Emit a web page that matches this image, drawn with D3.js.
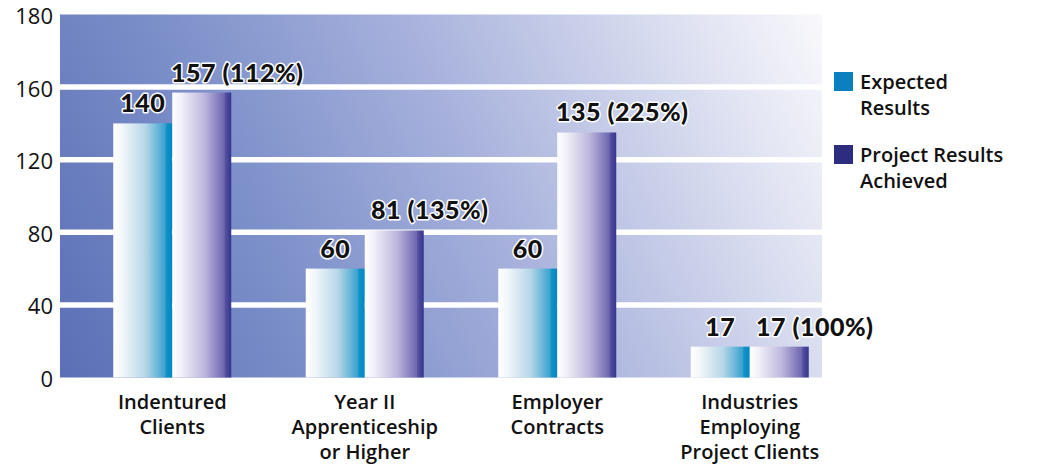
<!DOCTYPE html>
<html>
<head>
<meta charset="utf-8">
<script src="https://cdn.jsdelivr.net/npm/d3@7"></script>
<style>
  body { margin: 0; background: #ffffff; }
  text { font-family: "Open Sans", sans-serif; fill: #111; }
</style>
</head>
<body>
<div id="chart"></div>
<script>
// data
const categories = ["Indentured Clients", "Year II Apprenticeship or Higher", "Employer Contracts", "Industries Employing Project Clients"];
const categoryLines = [["Indentured", "Clients"], ["Year II", "Apprenticeship", "or Higher"], ["Employer", "Contracts"], ["Industries", "Employing", "Project Clients"]];
const expected = [140, 60, 60, 17];
const achieved = [157, 81, 135, 17];
const achievedPct = ["112%", "135%", "225%", "100%"];
const series = ["Expected Results", "Project Results Achieved"];
const legendLines = [["Expected", "Results"], ["Project Results", "Achieved"]];
const yTickValues = [0, 40, 80, 120, 160, 200];
const yTickLabels = ["0", "40", "80", "120", "160", "180"];

let width = 1043, height = 466;
let plot = { left: 60, right: 822, top: 14.5, bottom: 377.5 };

let svg = d3.select("#chart").append("svg")
    .attr("width", width)
    .attr("height", height);

let defs = svg.append("defs");

// background gradient, dark blue bottom-left to near white top-right
let bg = defs.append("linearGradient")
    .attr("id", "bg")
    .attr("gradientUnits", "userSpaceOnUse")
    .attr("x1", plot.left).attr("y1", plot.bottom)
    .attr("x2", plot.right).attr("y2", plot.top);
[[0, "#5a6fb6"], [0.3, "#7e91ca"], [0.55, "#a7b1dc"], [0.8, "#d6daee"], [1, "#f9f9fc"]].forEach(s => {
    bg.append("stop").attr("offset", s[0]).attr("stop-color", s[1]);
});

let barGrads = [
    [[0, "#ffffff"], [0.15, "#f3f7fa"], [0.55, "#b5d6e7"], [0.88, "#3aa2d0"], [0.9, "#0f93c8"], [1, "#0088c0"]],
    [[0, "#ffffff"], [0.15, "#f2f0f8"], [0.55, "#bcb6dc"], [0.88, "#6d67b0"], [0.9, "#55509f"], [1, "#35358c"]]
];
barGrads.forEach((stops, i) => {
    let g = defs.append("linearGradient").attr("id", "bar" + i)
        .attr("x1", 0).attr("y1", 0).attr("x2", 1).attr("y2", 0);
    stops.forEach(s => g.append("stop").attr("offset", s[0]).attr("stop-color", s[1]));
});

// scales
let y = d3.scaleLinear().domain([0, 200]).range([plot.bottom, plot.top]);
let x0 = d3.scaleBand().domain(categories).range([76, 846]);
let x1 = d3.scaleBand().domain(series).range([-59, 59]);
let cx = c => x0(c) + x0.bandwidth() / 2;

// plot background
svg.append("rect")
    .attr("x", plot.left).attr("y", plot.top)
    .attr("width", plot.right - plot.left)
    .attr("height", plot.bottom - plot.top)
    .attr("fill", "url(#bg)");

// white grid lines
svg.selectAll(".grid")
    .data(yTickValues.filter(v => v > 0 && v < 200))
    .enter().append("line")
    .attr("x1", plot.left).attr("x2", plot.right)
    .attr("y1", d => y(d)).attr("y2", d => y(d))
    .attr("stroke", "#ffffff")
    .attr("stroke-width", 5.5);

// y axis labels
let yAxis = svg.append("g")
    .attr("transform", "translate(53,2)")
    .call(d3.axisLeft(y).tickValues(yTickValues).tickSize(0).tickPadding(0)
        .tickFormat((d, i) => yTickLabels[i]));
yAxis.select(".domain").remove();
yAxis.selectAll("text")
    .style("font-family", "'Open Sans', sans-serif")
    .style("font-size", "22px")
    .style("font-weight", 500)
    .attr("fill", "#111");

// bars
let groups = svg.selectAll(".group")
    .data(categories)
    .enter().append("g")
    .attr("transform", d => "translate(" + cx(d) + ",0)");

groups.each(function (c, i) {
    let g = d3.select(this);
    [expected[i], achieved[i]].forEach((v, k) => {
        g.append("rect")
            .attr("x", x1(series[k]))
            .attr("width", x1.bandwidth())
            .attr("y", y(v))
            .attr("height", y(0) - y(v))
            .attr("fill", "url(#bar" + k + ")");
    });
});

// value labels with white outline
function valueLabel(sel) {
    sel.style("font-family", "Lato, sans-serif")
        .style("font-size", "25px")
        .style("font-weight", 900)
        .style("letter-spacing", "0.5px")
        .attr("fill", "#000")
        .attr("stroke", "#ffffff")
        .attr("stroke-width", 3)
        .attr("stroke-linejoin", "round")
        .attr("paint-order", "stroke");
}

groups.append("text")
    .attr("x", x1(series[0]) + x1.bandwidth() / 2)
    .attr("y", (d, i) => y(expected[i]) - 11)
    .attr("text-anchor", "middle")
    .text((d, i) => expected[i])
    .call(valueLabel);

groups.append("text")
    .attr("x", x1(series[1]) + x1.bandwidth() + 6)
    .attr("y", (d, i) => y(achieved[i]) - 11)
    .attr("text-anchor", "middle")
    .text((d, i) => achieved[i] + " (" + achievedPct[i] + ")")
    .call(valueLabel);

// category labels
groups.each(function (c, i) {
    let t = d3.select(this).append("text")
        .attr("text-anchor", "middle")
        .style("font-size", "20px")
        .style("font-weight", 600);
    categoryLines[i].forEach((line, j) => {
        t.append("tspan").attr("x", 0).attr("y", 409 + j * 25).text(line);
    });
});

// legend
let legendColors = ["#0a80bf", "#2c2d7e"];
let legend = svg.selectAll(".legend")
    .data(series)
    .enter().append("g")
    .attr("transform", (d, i) => "translate(834," + (72 + i * 73) + ")");
legend.append("rect")
    .attr("width", 19).attr("height", 19)
    .attr("fill", (d, i) => legendColors[i]);
legend.each(function (d, i) {
    let t = d3.select(this).append("text")
        .style("font-size", "20px")
        .style("font-weight", 600);
    legendLines[i].forEach((line, j) => {
        t.append("tspan").attr("x", 26).attr("y", 17 + j * 26).text(line);
    });
});
</script>
</body>
</html>
